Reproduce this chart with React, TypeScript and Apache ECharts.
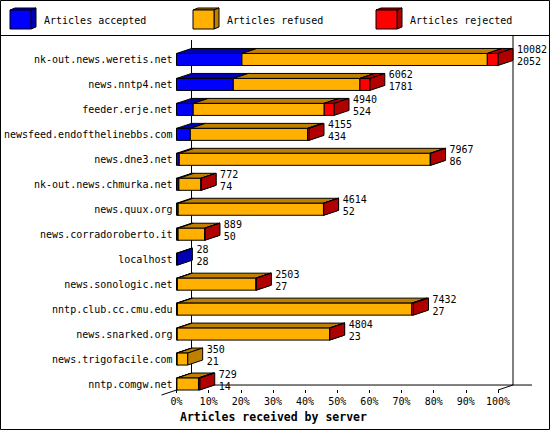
import React, { useEffect, useRef } from 'react';
import * as echarts from 'echarts';

const servers = [
  'nk-out.news.weretis.net',
  'news.nntp4.net',
  'feeder.erje.net',
  'newsfeed.endofthelinebbs.com',
  'news.dne3.net',
  'nk-out.news.chmurka.net',
  'news.quux.org',
  'news.corradoroberto.it',
  'localhost',
  'news.sonologic.net',
  'nntp.club.cc.cmu.edu',
  'news.snarked.org',
  'news.trigofacile.com',
  'nntp.comgw.net',
];
const totals = [10082, 6062, 4940, 4155, 7967, 772, 4614, 889, 28, 2503, 7432, 4804, 350, 729];
const accepted = [2052, 1781, 524, 434, 86, 74, 52, 50, 28, 27, 27, 23, 21, 14];
const refused = [7695, 3971, 4108, 3676, 7871, 693, 4557, 834, 0, 2466, 7355, 4776, 329, 675];
const rejected = [335, 310, 308, 45, 10, 5, 5, 5, 0, 10, 50, 5, 0, 40];

const legendNames = ['Articles accepted', 'Articles refused', 'Articles rejected'];
const fronts = ['#0000ff', '#ffb000', '#ff0000'];
const darks = ['#0000b0', '#bf8000', '#b00000'];

const FONT = '"DejaVu Sans Mono", monospace';
const DX = 15;
const DY = 5;
const HALF = 6;

function box(xs: number, xe: number, yTop: number, yBot: number, i: number) {
  const line = { stroke: '#000', lineWidth: 1 };
  return [
    {
      type: 'polygon',
      shape: { points: [[xs, yTop], [xe, yTop], [xe + DX, yTop - DY], [xs + DX, yTop - DY]] },
      style: { fill: darks[i], ...line },
    },
    {
      type: 'polygon',
      shape: { points: [[xe, yTop], [xe + DX, yTop - DY], [xe + DX, yBot - DY], [xe, yBot]] },
      style: { fill: darks[i], ...line },
    },
    {
      type: 'rect',
      shape: { x: xs, y: yTop, width: xe - xs, height: yBot - yTop },
      style: { fill: fronts[i], ...line },
    },
  ];
}

function legendCube(x: number, i: number) {
  const y = 10;
  const w = 21;
  const h = 19;
  const d = 5;
  const e = 2;
  return {
    type: 'group',
    children: [
      { type: 'polygon', shape: { points: [[x, y], [x + d, y - e], [x + w + d, y - e], [x + w, y]] }, style: { fill: darks[i], stroke: '#000' } },
      { type: 'polygon', shape: { points: [[x + w, y], [x + w + d, y - e], [x + w + d, y + h - e], [x + w, y + h]] }, style: { fill: darks[i], stroke: '#000' } },
      { type: 'rect', shape: { x, y, width: w, height: h }, style: { fill: fronts[i], stroke: '#000' } },
      { type: 'text', x: x + 34, y: 20, style: { text: legendNames[i], fontFamily: FONT, fontSize: 10, fill: '#000', verticalAlign: 'middle' } },
    ],
  };
}

export default function App() {
  const ref = useRef<HTMLDivElement>(null);

  useEffect(() => {
    if (!ref.current) return;
    const chart = echarts.init(ref.current, null, { renderer: 'svg' });
    const maxTotal = Math.max(...totals);
    const barData = servers.map((_, i) => [
      i,
      (accepted[i] / maxTotal) * 100,
      (refused[i] / maxTotal) * 100,
      (rejected[i] / maxTotal) * 100,
      totals[i],
      accepted[i],
    ]);

    const option: any = {
      animation: false,
      title: {
        text: 'Articles received by server',
        left: 180,
        top: 411,
        padding: 0,
        textStyle: { fontFamily: FONT, fontWeight: 'bold', fontSize: 11.5, color: '#000' },
      },
      grid: { left: 176.5, right: 52, top: 47, bottom: 33.5, containLabel: false, outerBoundsMode: 'none' },
      xAxis: {
        type: 'value',
        min: 0,
        max: 100,
        interval: 10,
        offset: -6.5,
        axisLine: { show: false },
        axisTick: { show: true, length: 3, lineStyle: { color: '#000' } },
        splitLine: { show: false },
        axisLabel: { formatter: '{value}%', fontFamily: FONT, fontSize: 10, color: '#000', margin: 6 },
      },
      yAxis: {
        type: 'category',
        data: servers,
        inverse: true,
        axisLine: { show: false },
        axisTick: { show: false },
        axisLabel: { interval: 0, fontFamily: FONT, fontSize: 10, color: '#000', margin: 4 },
      },
      graphic: [
        { type: 'rect', shape: { x: 0.5, y: 0.5, width: 549, height: 429 }, style: { fill: 'none', stroke: '#000' }, z: 100 },
        { type: 'line', shape: { x1: 0, y1: 35.5, x2: 550, y2: 35.5 }, style: { stroke: '#000' } },
        legendCube(10, 0),
        legendCube(193, 1),
        legendCube(376, 2),
      ],
      series: [
        {
          type: 'custom',
          z: 1,
          silent: true,
          encode: { x: 0, y: 1 },
          data: [[0, 0]],
          renderItem: (params: any, api: any) => {
            const first = api.coord([0, 0]);
            const last = api.coord([100, servers.length - 1]);
            const x0 = first[0];
            const x1 = last[0];
            const floorY = last[1] + HALF;
            const st = { stroke: '#000', lineWidth: 1 };
            return {
              type: 'group',
              children: [
                { type: 'line', shape: { x1: x0 + DX, y1: 40, x2: x0 + DX, y2: floorY - DY }, style: st },
                { type: 'line', shape: { x1: x1 + DX, y1: 36, x2: x1 + DX, y2: floorY - DY }, style: st },
                { type: 'line', shape: { x1: x0 + DX, y1: floorY - DY, x2: x1 + DX + 19, y2: floorY - DY }, style: st },
                { type: 'line', shape: { x1: x0 - DX, y1: floorY + DY, x2: x0 + DX, y2: floorY - DY }, style: st },
                { type: 'line', shape: { x1: x1, y1: floorY, x2: x1 + DX, y2: floorY - DY }, style: st },
              ],
            };
          },
        },
        {
          type: 'custom',
          z: 2,
          encode: { x: 1, y: 0 },
          data: barData,
          renderItem: (params: any, api: any) => {
            const idx = api.value(0);
            const parts = [api.value(1), api.value(2), api.value(3)];
            const cy = api.coord([0, idx])[1];
            const yTop = cy - HALF;
            const yBot = cy + HALF;
            const children: any[] = [];
            let cum = 0;
            let xe = api.coord([0, idx])[0];
            parts.forEach((v: number, i: number) => {
              if (v <= 0) return;
              const xs = api.coord([cum, idx])[0];
              cum += v;
              xe = api.coord([cum, idx])[0];
              children.push(...box(xs, xe, yTop, yBot, i));
            });
            children.push({
              type: 'text',
              x: xe + DX + 4,
              y: cy - 3.75,
              style: {
                text: `${api.value(4)}\n${api.value(5)}`,
                fontFamily: FONT,
                fontSize: 10,
                lineHeight: 11.5,
                fill: '#000',
                verticalAlign: 'middle',
                align: 'left',
              },
            });
            return { type: 'group', children };
          },
        },
      ],
    };

    chart.setOption(option);
    return () => {
      chart.dispose();
    };
  }, []);

  return (
    <div
      ref={ref}
      style={{ position: 'fixed', left: 0, top: 0, width: 550, height: 430, background: '#fff' }}
    />
  );
}
